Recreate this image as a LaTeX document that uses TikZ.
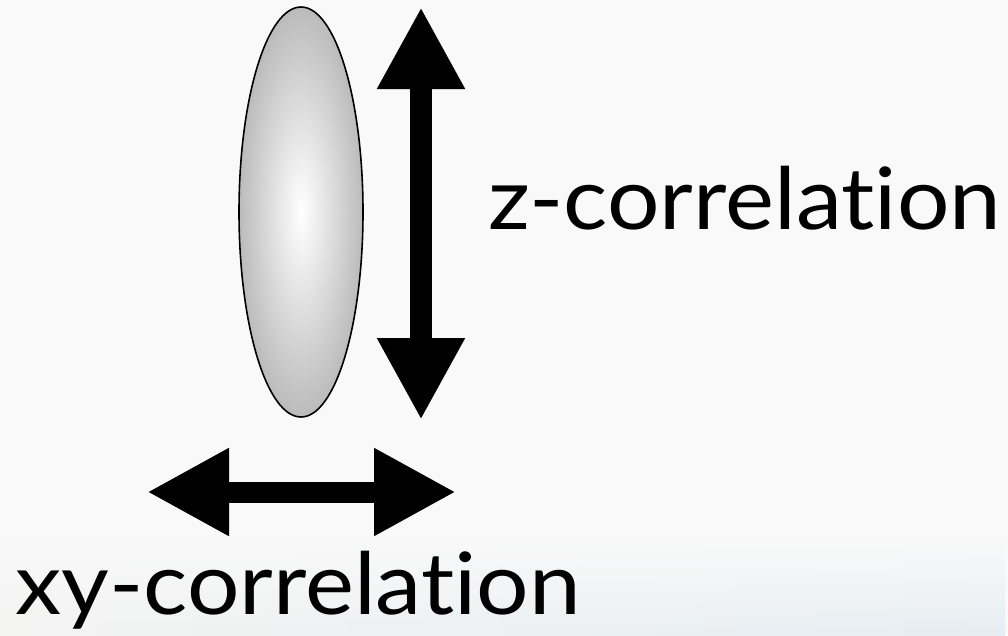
\documentclass[tikz,border=0pt]{standalone}
\usepackage{fontspec}
\setmainfont[Ligatures={NoCommon}]{Lato}
\usetikzlibrary{arrows.meta,shapes.geometric,fadings}
\definecolor{bg}{HTML}{F9F9F9}
\definecolor{bgleft}{HTML}{F3F3F2}
\definecolor{bgblue}{HTML}{E6EEF2}
\definecolor{ellout}{HTML}{BBBBBB}
\tikzfading[name=fadeup, top color=transparent!100, bottom color=transparent!0]
\tikzset{
  bigarrow/.style={line width=22pt, draw=black,
    {Triangle[length=82pt,width=82pt]}-{Triangle[length=82pt,width=82pt]}},
  label/.style={anchor=base west, inner sep=0pt, font=\fontsize{86}{90}\selectfont, xscale=1.077},
}
\begin{document}
\begin{tikzpicture}[x=1pt,y=-1pt]
\useasboundingbox (0,0) rectangle (1008,635);
\fill[bg] (0,0) rectangle (1008,635);
\shade[left color=bgleft, right color=bgblue, path fading=fadeup] (0,540) rectangle (1008,635);
\node[ellipse, draw=black, line width=1.6pt, minimum width=124pt, minimum height=410pt,
      inner sep=0pt, inner color=white, outer color=ellout] (ell) at (301,212) {};
\coordinate (zt) at (421,7);
\coordinate (zb) at (421,420);
\draw[bigarrow] (zt) -- (zb);
\coordinate (xl) at (147,492);
\coordinate (xr) at (456,492);
\draw[bigarrow, line width=21pt] (xl) -- (xr);
\node[label] (zlab) at (488,229) {z-correlation};
\node[label] (xylab) at (15,614) {xy-correlation};
\end{tikzpicture}
\end{document}
